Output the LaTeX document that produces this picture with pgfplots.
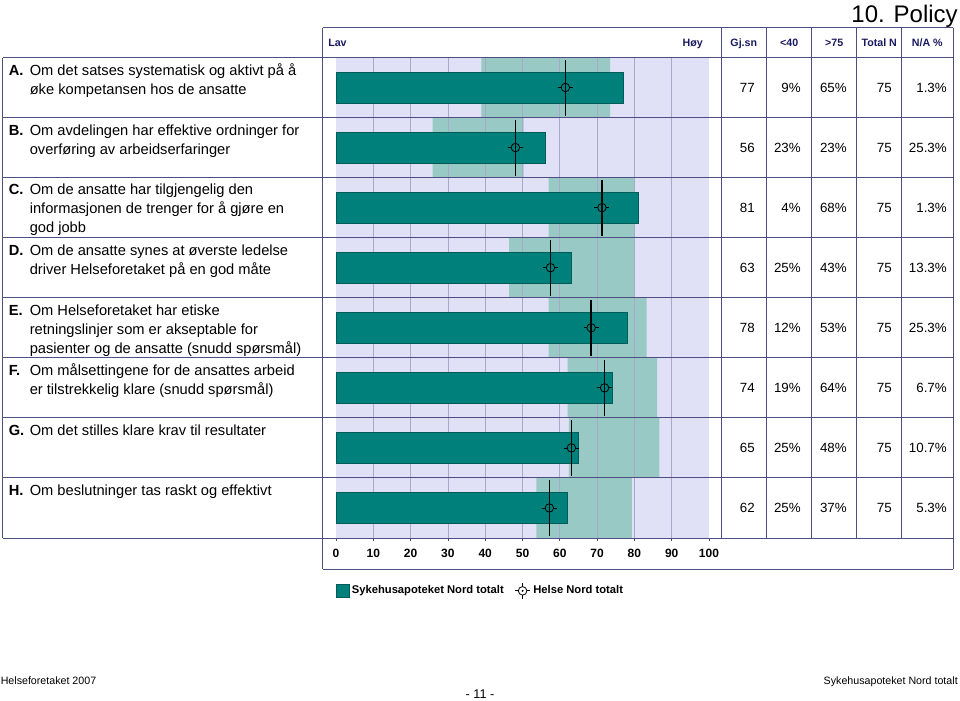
\documentclass[border=0pt]{standalone}
\usepackage{fontspec}
\setmainfont{Liberation Sans}
\usepackage{pgfplots}
\usepackage{pgfplotstable}
\pgfplotsset{compat=1.18}

\definecolor{lav}{RGB}{224,224,247}
\definecolor{band}{RGB}{153,201,197}
\definecolor{tealc}{RGB}{0,128,122}
\definecolor{tealdark}{RGB}{0,92,88}
\definecolor{gridc}{RGB}{168,168,200}
\definecolor{linec}{RGB}{78,78,130}
\definecolor{navyt}{RGB}{25,25,95}

\pgfplotstableread{
row lo hi mean hn
7.5 39.0 73.5 77 61.5
6.5 25.9 50.3 56 48.1
5.5 57.0 80.0 81 71.3
4.5 46.4 80.0 63 57.5
3.5 57.0 83.3 78 68.4
2.5 62.1 86.1 74 72.0
1.5 62.4 86.7 65 63.1
0.5 53.7 79.3 62 57.2
}\data

\pgfdeclareplotmark{helse}{%
  \pgfsetlinewidth{1.2pt}%
  \pgfpathmoveto{\pgfqpoint{0pt}{-21pt}}\pgfpathlineto{\pgfqpoint{0pt}{21pt}}\pgfusepath{stroke}%
  \pgfsetlinewidth{0.6pt}%
  \pgfpathcircle{\pgfpointorigin}{3.2pt}\pgfusepath{stroke}%
  \pgfpathmoveto{\pgfqpoint{-5.6pt}{0pt}}\pgfpathlineto{\pgfqpoint{-3.2pt}{0pt}}%
  \pgfpathmoveto{\pgfqpoint{5.6pt}{0pt}}\pgfpathlineto{\pgfqpoint{3.2pt}{0pt}}\pgfusepath{stroke}%
  \pgfpathcircle{\pgfpointorigin}{0.5pt}\pgfusepath{fill}%
}

\newcommand{\lab}{\fontsize{11}{15}\selectfont}
\newcommand{\val}{\fontsize{10}{12}\selectfont}
\newcommand{\hdr}{\fontsize{8}{10}\selectfont\bfseries\color{navyt}}

\begin{document}
\begin{tikzpicture}[x=0.75pt,y=-0.75pt]
\useasboundingbox (0,0) rectangle (960,700);
\coordinate (axo) at (336,538);

% background + bands
\begin{axis}[at={(axo)}, anchor=south west, scale only axis,
  width=279.75pt, height=360.4pt, xmin=0, xmax=100, ymin=0, ymax=8,
  axis background/.style={fill=lav}, axis line style={draw=none},
  xtick=\empty, ytick=\empty, xbar stacked, bar width=1]
\addplot[draw=none, fill=none] table[x=lo, y=row]{\data};
\addplot[draw=none, fill=band] table[x expr=\thisrow{hi}-\thisrow{lo}, y=row]{\data};
\end{axis}

% grid, bars, markers
\begin{axis}[at={(axo)}, anchor=south west, scale only axis,
  width=279.75pt, height=360.4pt, xmin=0, xmax=100, ymin=0, ymax=8,
  axis line style={draw=none},
  xtick={10,20,...,90}, extra x ticks={0,100}, extra x tick style={grid=none},
  xmajorgrids, major grid style={draw=gridc, line width=0.5pt},
  ytick=\empty, xtick pos=left, tick align=outside, major tick length=2pt,
  tick style={draw=linec, line width=0.5pt},
  /pgf/number format/assume math mode=true,
  xticklabel style={font=\bfseries\fontsize{9}{10}\selectfont, yshift=-2.5pt},
  legend columns=2, legend cell align=left,
  legend style={at={(-0.012,-0.11)}, anchor=west, draw=none, fill=none,
    font=\bfseries\fontsize{8.4}{10}\selectfont,
    /tikz/every even column/.append style={column sep=6pt}}]
\addplot[xbar, bar shift=0pt, bar width=0.51, fill=tealc, draw=tealdark, line width=0.5pt,
  legend image code/.code={\draw[fill=tealc,draw=tealdark,line width=0.5pt] (0pt,-4.8pt) rectangle (9.6pt,4.8pt);}]
  table[x=mean, y=row]{\data};
\addlegendentry{Sykehusapoteket Nord totalt}
\addplot[only marks, mark=helse, draw=black, mark options={fill=black},
  legend image code/.code={%
    \draw[line width=0.6pt, fill=none, draw=black] (6pt,0pt) circle (3.2pt);
    \draw[line width=0.6pt, fill=none, draw=black] (6pt,3.2pt)--(6pt,6pt) (6pt,-3.2pt)--(6pt,-6pt) (2.8pt,0pt)--(0.2pt,0pt) (9.2pt,0pt)--(11.8pt,0pt);
    \fill[black] (6pt,0pt) circle (0.5pt);}]
  table[x=hn, y=row]{\data};
\addlegendentry{Helse Nord totalt}
\end{axis}

% table lines
\foreach \k in {0,...,8} \draw[linec, line width=0.75pt] (2.7,{57.5+60.0625*\k}) -- (953,{57.5+60.0625*\k});
\draw[linec, line width=0.75pt] (2.7,57.5) -- (2.7,538);
\draw[linec, line width=0.75pt] (322.7,27.7) -- (953,27.7);
\draw[linec, line width=0.75pt] (322.7,569) -- (953,569);
\draw[linec, line width=0.75pt] (322.7,27.7) -- (322.7,569);
\draw[linec, line width=0.75pt] (953,27.7) -- (953,569);
\foreach \xx in {721,766.7,811.7,856.7,901.7} \draw[linec, line width=0.75pt] (\xx,27.7) -- (\xx,538);

% title
\node[anchor=base east, inner sep=0pt, font=\fontsize{18}{20}\selectfont] at (958,22) {10. Policy};

% header
\node[anchor=base west, inner sep=0pt] at (328,46) {\hdr Lav};
\node[anchor=base east, inner sep=0pt] at (703,46) {\hdr Høy};
\node[anchor=base, inner sep=0pt] at (743.8,46) {\hdr Gj.sn};
\node[anchor=base, inner sep=0pt] at (789.2,46) {\hdr <40};
\node[anchor=base, inner sep=0pt] at (834.2,46) {\hdr >75};
\node[anchor=base, inner sep=0pt] at (879.2,46) {\hdr Total N};
\node[anchor=base, inner sep=0pt] at (927.3,46) {\hdr N/A \%};

% left labels
\newcommand{\lt}[3]{\node[anchor=base west, inner sep=0pt] at (#1,#2) {\lab #3};}
\lt{8.5}{75}{\textbf{A.}}
\lt{29.5}{75}{Om det satses systematisk og aktivt på å}
\lt{29.5}{94}{øke kompetansen hos de ansatte}
\lt{8.5}{135}{\textbf{B.}}
\lt{29.5}{135}{Om avdelingen har effektive ordninger for}
\lt{29.5}{154}{overføring av arbeidserfaringer}
\lt{8.5}{194.5}{\textbf{C.}}
\lt{29.5}{194.5}{Om de ansatte har tilgjengelig den}
\lt{29.5}{213.5}{informasjonen de trenger for å gjøre en}
\lt{29.5}{232.5}{god jobb}
\lt{8.5}{255}{\textbf{D.}}
\lt{29.5}{255}{Om de ansatte synes at øverste ledelse}
\lt{29.5}{274}{driver Helseforetaket på en god måte}
\lt{8.5}{315}{\textbf{E.}}
\lt{29.5}{315}{Om Helseforetaket har etiske}
\lt{29.5}{334}{retningslinjer som er akseptable for}
\lt{29.5}{353}{pasienter og de ansatte (snudd spørsmål)}
\lt{8.5}{375}{\textbf{F.}}
\lt{29.5}{375}{Om målsettingene for de ansattes arbeid}
\lt{29.5}{394}{er tilstrekkelig klare (snudd spørsmål)}
\lt{8.5}{435.5}{\textbf{G.}}
\lt{29.5}{435.5}{Om det stilles klare krav til resultater}
\lt{8.5}{495.5}{\textbf{H.}}
\lt{29.5}{495.5}{Om beslutninger tas raskt og effektivt}

% values
\newcommand{\vrow}[6]{%
  \node[anchor=base east, inner sep=0pt] at (755,#1) {\val #2};
  \node[anchor=base east, inner sep=0pt] at (801,#1) {\val #3};
  \node[anchor=base east, inner sep=0pt] at (847,#1) {\val #4};
  \node[anchor=base east, inner sep=0pt] at (892,#1) {\val #5};
  \node[anchor=base east, inner sep=0pt] at (947,#1) {\val #6};}
\vrow{92.5}{77}{9\%}{65\%}{75}{1.3\%}
\vrow{152.6}{56}{23\%}{23\%}{75}{25.3\%}
\vrow{212.6}{81}{4\%}{68\%}{75}{1.3\%}
\vrow{272.7}{63}{25\%}{43\%}{75}{13.3\%}
\vrow{332.8}{78}{12\%}{53\%}{75}{25.3\%}
\vrow{392.8}{74}{19\%}{64\%}{75}{6.7\%}
\vrow{452.9}{65}{25\%}{48\%}{75}{10.7\%}
\vrow{512.9}{62}{25\%}{37\%}{75}{5.3\%}

% footer
\node[anchor=base west, inner sep=0pt, font=\fontsize{8}{10}\selectfont] at (0.5,684) {Helseforetaket 2007};
\node[anchor=base east, inner sep=0pt, font=\fontsize{8}{10}\selectfont] at (958,684) {Sykehusapoteket Nord totalt};
\node[anchor=base, inner sep=0pt, font=\fontsize{9.5}{11}\selectfont] at (480,698) {- 11 -};
\end{tikzpicture}
\end{document}
